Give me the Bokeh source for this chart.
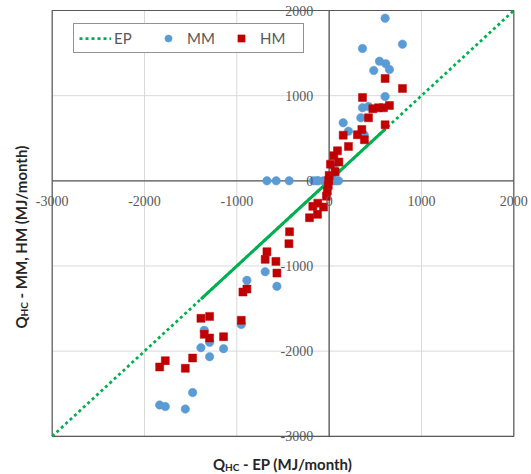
import math
from bokeh.plotting import figure
from bokeh.models import (Range1d, Label, LabelSet, ColumnDataSource,
                          Legend, LegendItem)
from bokeh.embed import file_html
from bokeh.resources import INLINE

# ---------------- data ----------------
axis_min, axis_max = -3000, 2000
tick_values = [-3000, -2000, -1000, 0, 1000, 2000]
tick_labels = ["-3000", "-2000", "-1000", "0", "1000", "2000"]

mm_ep = [-1836, -1775, -1558, -1479, -1389, -1353, -1295, -1295, -1144, -952,
         -891, -693, -566, -674, -574, -433, -170, -133, -116, -61, -7, 47, 76,
         101, 50, 152, 209, 343, 361, 361, 379, 426, 483, 545, 606, 606, 613,
         653, 794]
mm_q = [-2632, -2651, -2680, -2487, -1959, -1756, -1897, -2065, -1971, -1686,
        -1169, -1067, -1239, 0, 0, 0, 0, 0, 0, 0, 0, 0, 0,
        0, 165, 682, 583, 740, 858, 1554, 541, 873, 1296, 1405, 1910, 990, 1374,
        1307, 1605]

hm_ep = [-1836, -1775, -1558, -1479, -1389, -1295, -1353, -1295, -1144, -952,
         -934, -891, -693, -674, -577, -566, -436, -429, -213, -177, -126, -123,
         -61, -30, -20, -10, -5, 0, 14, 65, 51, 90, 105, 152, 209, 306, 354, 361,
         382, 426, 473, 534, 588, 606, 606, 653, 794]
hm_q = [-2186, -2112, -2202, -2081, -1615, -1592, -1803, -1846, -1830, -1638,
        -1306, -1271, -922, -832, -946, -1083, -738, -598, -433, -300, -394, -262,
        -308, -180, -120, -54, 5, 63, 196, 107, 295, 353, 220, 536, 404, 541, 603,
        979, 482, 740, 846, 858, 858, 1202, 658, 885, 1085]

# ---------------- layout (pixels) ----------------
CANVAS_W, CANVAS_H = 531, 474
PLOT_LEFT, PLOT_RIGHT = 51.7, 513.3
PLOT_TOP, PLOT_BOTTOM = 10.0, 435.8

kx = (PLOT_RIGHT - PLOT_LEFT) / (axis_max - axis_min)
ky = (PLOT_BOTTOM - PLOT_TOP) / (axis_max - axis_min)
x_range = Range1d(axis_min - PLOT_LEFT / kx, axis_max + (CANVAS_W - PLOT_RIGHT) / kx)
y_range = Range1d(axis_min - (CANVAS_H - PLOT_BOTTOM) / ky, axis_max + PLOT_TOP / ky)

# ---------------- styling ----------------
GREEN = "#00B050"
BLUE = "#5B9BD5"
RED = "#C00000"
TICK_COLOR = "#595959"
AXIS_COLOR = "#595959"
GRID_COLOR = "#D9D9D9"
TITLE_COLOR = "#262626"
FONT = "Lato"

p = figure(width=CANVAS_W, height=CANVAS_H, x_range=x_range, y_range=y_range,
           output_backend="svg", toolbar_location=None,
           x_axis_location=None, y_axis_location=None,
           min_border_left=0, min_border_right=0,
           min_border_top=0, min_border_bottom=0)
p.outline_line_color = None
p.background_fill_color = "white"
p.border_fill_color = "white"
p.xgrid.visible = False
p.ygrid.visible = False

n = len(tick_values)
# gridlines
p.segment(x0=tick_values, x1=tick_values, y0=[axis_min] * n, y1=[axis_max] * n,
          line_color=GRID_COLOR, line_width=1)
p.segment(x0=[axis_min] * n, x1=[axis_max] * n, y0=tick_values, y1=tick_values,
          line_color=GRID_COLOR, line_width=1)
# plot-area border
p.quad(left=[axis_min], right=[axis_max], bottom=[axis_min], top=[axis_max],
       fill_color=None, line_color=AXIS_COLOR, line_width=1.2)
# axes through zero
p.segment(x0=[axis_min, 0], x1=[axis_max, 0], y0=[0, axis_min], y1=[0, axis_max],
          line_color=AXIS_COLOR, line_width=1.3)

# EP (1:1) line
ep_line = p.line([axis_min, axis_max], [axis_min, axis_max], line_color=GREEN,
                 line_width=2.75, line_dash="3 3")
ep_sorted = sorted(set(mm_ep + hm_ep))
ep_dense = [ep_sorted[4], ep_sorted[-3]]
p.line(ep_dense, ep_dense, line_color=GREEN, line_width=3)

mm_r = p.scatter(mm_ep, mm_q, marker="circle", size=8.5, fill_color=BLUE,
                 line_color=BLUE, line_width=0.5)
hm_r = p.scatter(hm_ep, hm_q, marker="square", size=8, fill_color=RED,
                 line_color=RED, line_width=0.5)

# tick labels placed at the zero axes
tsrc = ColumnDataSource(dict(v=tick_values, t=tick_labels, z=[0] * n))
p.add_layout(LabelSet(x="v", y="z", text="t", source=tsrc, text_align="center",
                      text_baseline="middle", y_offset=-20, text_font=FONT,
                      text_font_size="14px", text_color=TICK_COLOR))
p.add_layout(LabelSet(x="z", y="v", text="t", source=tsrc, text_align="right",
                      text_baseline="middle", x_offset=-16, text_font=FONT,
                      text_font_size="14px", text_color=TICK_COLOR))

# axis titles with subscripts
xc = (axis_min + axis_max) / 2


def title_piece(text, x, y, xo, yo, size, angle=0.0):
    p.add_layout(Label(x=x, y=y, text=text, x_offset=xo, y_offset=yo,
                       angle=angle, text_align="left", text_baseline="alphabetic",
                       text_font=FONT, text_font_style="bold",
                       text_font_size=size, text_color=TITLE_COLOR))


# bottom title
title_piece("Q", xc, axis_min, -70, -28, "15px")
title_piece("HC", xc, axis_min, -58, -31, "10px")
title_piece("- EP (MJ/month)", xc, axis_min, -40, -28, "15px")
# left title (rotated)
title_piece("Q", axis_min, xc, -31, -105, "15px", math.pi / 2)
title_piece("HC", axis_min, xc, -28, -93, "10px", math.pi / 2)
title_piece("- MM, HM (MJ/month)", axis_min, xc, -31, -75, "15px", math.pi / 2)

legend = Legend(items=[LegendItem(label="EP", renderers=[ep_line]),
                       LegendItem(label="MM", renderers=[mm_r]),
                       LegendItem(label="HM", renderers=[hm_r])],
                orientation="horizontal", location=(73, 421), margin=0,
                padding=5, spacing=0, label_standoff=3, label_width=38,
                glyph_width=32, glyph_height=18, label_height=18,
                label_text_font=FONT, label_text_font_size="15px",
                label_text_color=TICK_COLOR,
                border_line_color="#262626", border_line_width=1,
                background_fill_color="white", background_fill_alpha=1)
p.add_layout(legend)

open("out.html", "w").write(file_html(p, INLINE))
